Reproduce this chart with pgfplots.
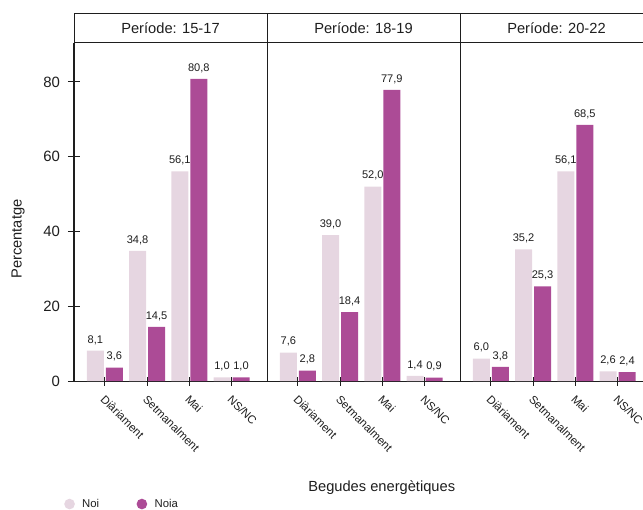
\documentclass[border=0pt]{standalone}
\usepackage{pgfplots}
\usepackage{pgfplotstable}
\pgfplotsset{compat=1.18}
\usepackage{fontspec}
\setmainfont{Liberation Sans}

\definecolor{noi}{RGB}{230,214,225}
\definecolor{noia}{RGB}{172,75,150}
\definecolor{ink}{RGB}{30,30,30}

% one table per period: category index, Noi, Noia
\pgfplotstableread{
cat noi noia
0 8.1 3.6
1 34.8 14.5
2 56.1 80.8
3 1.0 1.0
}\tA
\pgfplotstableread{
cat noi noia
0 7.6 2.8
1 39.0 18.4
2 52.0 77.9
3 1.4 0.9
}\tB
\pgfplotstableread{
cat noi noia
0 6.0 3.8
1 35.2 25.3
2 56.1 68.5
3 2.6 2.4
}\tC

\pgfplotsset{
  frame/.style={
    scale only axis, width=144.75pt, height=253.5pt,
    anchor=south west,
    ymin=0, ymax=90.43, xmin=-0.73, xmax=3.84,
    clip=false,
    tick style={ink, line width=0.75pt},
    tick align=outside,
  },
  nolinearrows/.style={
    axis line style={-, line width=0.75pt, ink},
    every outer x axis line/.append style={-},
    every outer y axis line/.append style={-},
  },
  panel/.style={
    frame,
    ybar=1.5pt, bar width=12.75pt,
    axis x line=bottom, axis y line=left,
    nolinearrows,
    xtick={0,1,2,3},
    xticklabels={Diàriament,Setmanalment,Mai,NS/NC},
    xticklabel style={rotate=-45, anchor=north west, inner sep=1pt,
      font=\fontsize{8.6}{10}\selectfont, text=ink, xshift=4.1pt, yshift=-2.9pt},
    major tick length=6.75pt,
    ytick=\empty,
    /pgf/number format/assume math mode=true,
    /pgf/number format/fixed,
    /pgf/number format/fixed zerofill,
    /pgf/number format/precision=1,
    /pgf/number format/use comma,
    nodes near coords,
    every node near coord/.append style={font=\fontsize{8.3}{10}\selectfont,
      text=ink, inner sep=0pt, yshift=4.5pt},
  },
}

\begin{document}
\begin{tikzpicture}

\begin{axis}[panel, at={(55.5pt,-285.75pt)},
  legend style={at={(axis description cs:-0.052,-0.364)}, anchor=west,
    draw=none, fill=none, inner sep=0pt, legend columns=2,
    font=\fontsize{8.5}{10}\selectfont, text=ink,
    /tikz/every even column/.append style={column sep=26pt}},
  legend image code/.code={\fill[#1] (4pt,0pt) circle (4pt); \path (11.5pt,0pt);},
]
\addplot[fill=noi, draw=none] table[x=cat, y=noi] {\tA};
\addplot[fill=noia, draw=none] table[x=cat, y=noia] {\tA};
\legend{Noi, Noia}
\end{axis}

\begin{axis}[panel, at={(200.25pt,-285.75pt)}]
\addplot[fill=noi, draw=none] table[x=cat, y=noi] {\tB};
\addplot[fill=noia, draw=none] table[x=cat, y=noia] {\tB};
\end{axis}

\begin{axis}[panel, at={(345pt,-285.75pt)}]
\addplot[fill=noi, draw=none] table[x=cat, y=noi] {\tC};
\addplot[fill=noia, draw=none] table[x=cat, y=noia] {\tC};
\end{axis}

% y axis of the first panel, with its own tick length
\begin{axis}[frame, at={(55.5pt,-285.75pt)},
  axis x line=none, axis y line=left,
  nolinearrows,
  ytick={0,20,40,60,80}, major tick length=9pt,
  yticklabel style={font=\fontsize{11.2}{13}\selectfont, text=ink, xshift=-2.5pt},
  /pgf/number format/assume math mode=true,
  ylabel={Percentatge},
  ylabel style={at={(axis description cs:-0.290,0.42)}, anchor=center,
    font=\fontsize{11}{13}\selectfont, text=ink},
]
\end{axis}

% facet strips
\draw[ink, line width=0.75pt] (55.5pt,-10.5pt) -- (500pt,-10.5pt)
  (55.5pt,-32.25pt) -- (500pt,-32.25pt)
  (55.5pt,-10.5pt) -- (55.5pt,-32.25pt)
  (200.25pt,-10.5pt) -- (200.25pt,-32.25pt)
  (345pt,-10.5pt) -- (345pt,-32.25pt);
\begin{scope}[every node/.style={font=\fontsize{11}{13}\selectfont, text=ink}]
\node at (127.875pt,-21.375pt) {Període: 15-17};
\node at (272.625pt,-21.375pt) {Període: 18-19};
\node at (417.375pt,-21.375pt) {Període: 20-22};
\node at (286.3pt,-366pt) {Begudes energètiques};
\end{scope}

\pgfresetboundingbox
\path[use as bounding box] (0,0) rectangle (482.25pt,-382.5pt);
\end{tikzpicture}
\end{document}
